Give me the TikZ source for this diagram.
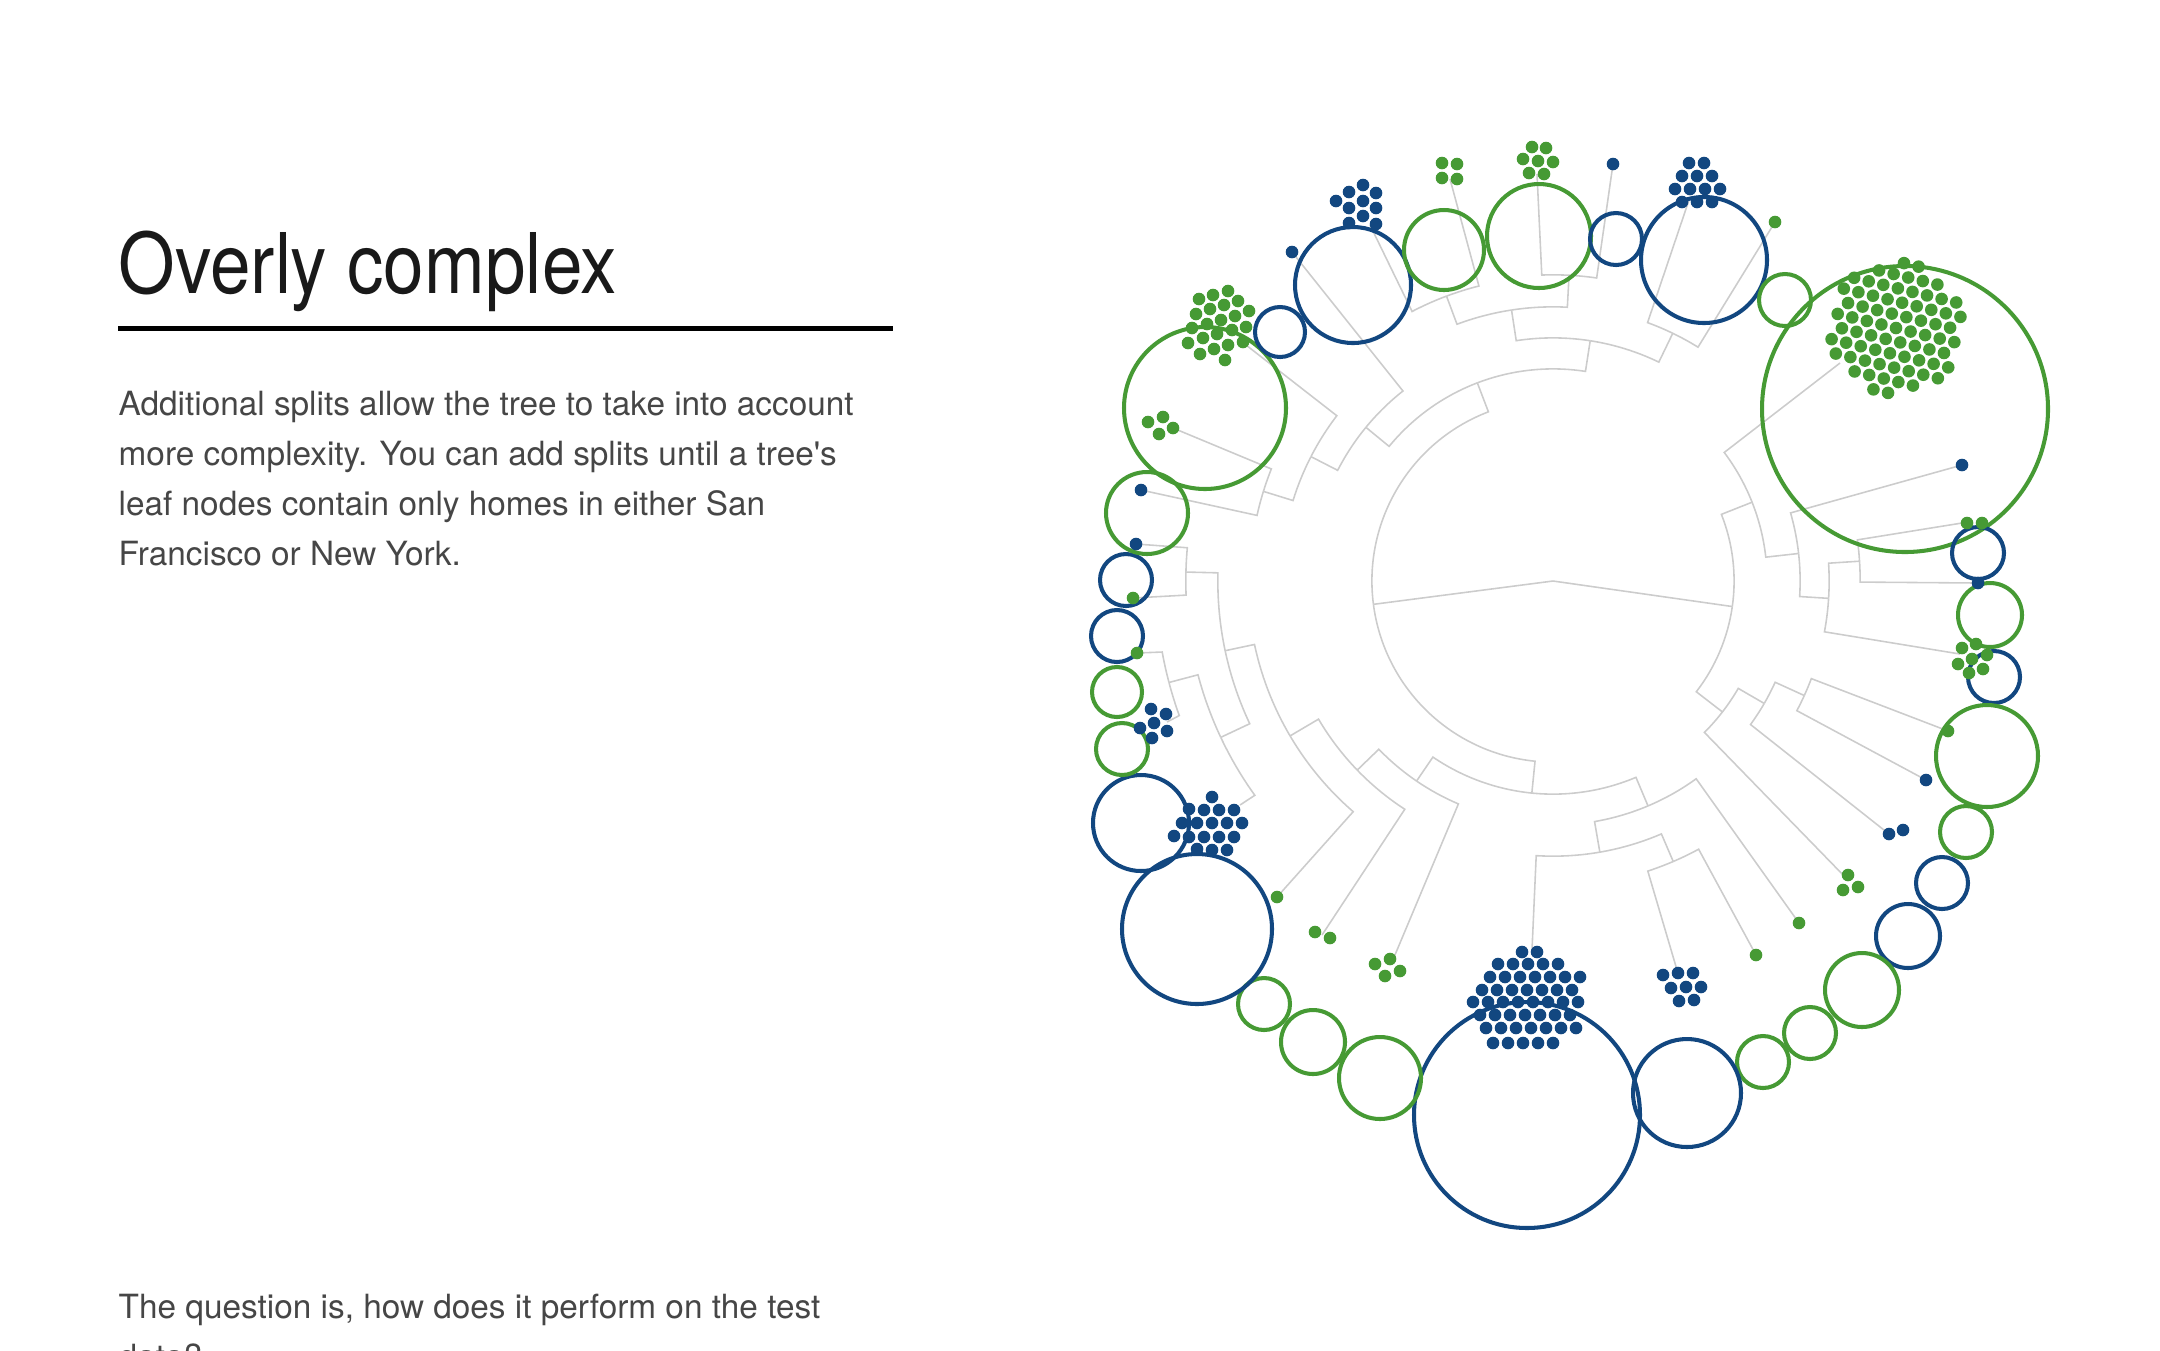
\documentclass[tikz,border=0pt]{standalone}
\usepackage{fontspec}
\setmainfont{TeX Gyre Heros}
\newfontfamily\titlefont[FakeStretch=0.87]{TeX Gyre Heros}
\usepackage{xcolor}
\definecolor{leafgreen}{RGB}{70,154,52}
\definecolor{leafblue}{RGB}{18,71,128}
\definecolor{branchgray}{RGB}{204,204,204}
\definecolor{bodygray}{RGB}{70,70,70}
\tikzset{
  branch/.style    = {draw=branchgray, line width=0.45pt},
  ringg/.style     = {draw=leafgreen, line width=1.15pt},
  ringb/.style     = {draw=leafblue, line width=1.15pt},
  dotg/.style      = {fill=leafgreen},
  dotb/.style      = {fill=leafblue},
  titletext/.style = {anchor=base west, inner sep=0pt, text=black!90, font=\titlefont\fontsize{23.8}{28}\selectfont},
  bodytext/.style  = {anchor=base west, inner sep=0pt, text=bodygray, font=\fontsize{9.48}{14}\selectfont},
}
% hex-packed blob of dots: centre x, centre y, radius (px), tilt, style
\newcommand{\hexblob}[5]{%
  \pgfmathsetmacro\hexlim{(#3/15)^2}%
  \foreach \hi in {-6,...,6}{\foreach \hj in {-6,...,6}{%
    \pgfmathsetmacro\hexu{\hi*cos(#4)+\hj*cos(#4+60)}%
    \pgfmathsetmacro\hexv{\hi*sin(#4)+\hj*sin(#4+60)}%
    \pgfmathsetmacro\hexd{\hexu*\hexu+\hexv*\hexv}%
    \ifdim\hexd pt<\hexlim pt
      \fill[#5] ({#1+15*\hexu},{#2+15*\hexv}) circle[radius=0.063cm];
    \fi
  }}}

\begin{document}
\begin{tikzpicture}[x=0.01cm, y=-0.01cm]
\useasboundingbox (0,0) rectangle (2160,1350);
\clip (0,0) rectangle (2160,1350);

% ===== text column =====
\node[titletext] (title) at (118,293) {Overly complex};
\draw[line width=0.05cm] (118,328) -- (893,328);
\node[bodytext] (body1) at (118,415) {Additional splits allow the tree to take into account};
\node[bodytext] (body2) at (118,465) {more complexity. You can add splits until a tree\textquotesingle s};
\node[bodytext] (body3) at (118,515) {leaf nodes contain only homes in either San};
\node[bodytext] (body4) at (118,565) {Francisco or New York.};
\node[bodytext] (quest1) at (118,1318) {The question is, how does it perform on the test};
\node[bodytext] (quest2) at (118,1368) {data?};

% ===== leaf ends =====
\foreach \nm/\x/\y in {dd/1775/222, cc/1689/200, bb/1613/164, aa/1537/174, z/1450/179,
    y/1370/225, x/1292/252, w/1246/345, v/1173/428, u/1141/490, t/1136/544, s/1133/598,
    r/1137/653, q/1167/722, p/1240/805, o/1277/897, n/1322/935, m/1392/962, l/1532/950,
    k/1677/970, j/1756/955, i/1799/923, ee/1840/363, a/1962/465, d/1960/654, c/1978/583,
    b/1962/523, h/1848/880, g/1889/834, f/1926/780, e/1948/731}
  \coordinate (lf\nm) at (\x,\y);

% ===== tree =====
\begin{scope}[shift={(1553,581)}, x=1cm, y=1cm]
  \coordinate (root) at (0,0);
  \coordinate (nL) at (187.4:1.81);
  \coordinate (nR) at (-8.1:1.81);
  \draw[branch] (nL) -- (root) -- (nR);
  % inner splits
  \foreach \pang/\prad/\cang/\crad in {
      187.4/1.81/110.9/2.12, 187.4/1.81/264.3/2.13,
      110.9/2.12/81.2/2.43, 110.9/2.12/140.6/2.42,
      81.2/2.43/64.2/2.75, 81.2/2.43/98.7/2.74,
      98.7/2.74/87.0/3.06, 98.7/2.74/110.5/3.04,
      140.6/2.42/152.8/2.72, 152.8/2.72/162.8/3.03,
      264.3/2.13/235.7/2.42, 264.3/2.13/292.9/2.44,
      235.7/2.42/224.0/2.72, 224.0/2.72/210.5/3.05,
      210.5/3.05/192.0/3.35,
      192.0/3.35/178.6/3.67, 192.0/3.35/205.2/3.67,
      205.2/3.67/194.8/3.97,
      292.9/2.44/279.8/2.75, 279.8/2.75/293.2/3.05,
      -8.1/1.81/21.6/2.14, -8.1/1.81/-37.7/2.14,
      21.6/2.14/6.4/2.47, 6.4/2.47/-3.6/2.76, -3.6/2.76/3.7/3.07,
      -37.7/2.14/-30.1/2.44, -30.1/2.44/-24.5/2.76}
    \draw[branch] (\pang:\prad) arc[start angle=\pang, end angle=\cang, radius=\prad] -- (\cang:\crad);
  % leaf links
  \foreach \pang/\prad/\lang/\leaf in {
      64.2/2.75/58.2/dd, 64.2/2.75/69.9/cc,
      87.0/3.06/81.8/bb, 87.0/3.06/92.1/aa,
      110.5/3.04/104.1/z, 110.5/3.04/117.6/y,
      140.6/2.42/128.3/x, 152.8/2.72/142.6/w,
      162.8/3.03/158.3/v, 162.8/3.03/167.5/u,
      235.7/2.42/247.0/m, 224.0/2.72/237.0/n, 210.5/3.05/229.1/o,
      178.6/3.67/174.8/t, 178.6/3.67/182.2/s,
      205.2/3.67/215.7/p,
      194.8/3.97/190.3/r, 194.8/3.97/199.8/q,
      292.9/2.44/305.9/i, 279.8/2.75/266.5/l,
      293.2/3.05/288.1/k, 293.2/3.05/298.5/j,
      21.6/2.14/36.9/ee, 6.4/2.47/16.0/a, -3.6/2.76/-10.6/d,
      3.7/3.07/-0.2/c, 3.7/3.07/7.7/b,
      -37.7/2.14/-45.0/h, -30.1/2.44/-36.0/g,
      -24.5/2.76/-28.0/f, -24.5/2.76/-20.7/e}
    \draw[branch] (\pang:\prad) arc[start angle=\pang, end angle=\lang, radius=\prad] -- (lf\leaf);
\end{scope}

% ===== leaf rings =====
\foreach \x/\y/\rad/\sty in {
    1205/408/81/ringg, 1280/332/25/ringb, 1353/285/58/ringb, 1444/250/40/ringg,
    1539/236/52/ringg, 1616/239/26/ringb, 1704/260/63/ringb, 1785/300/26/ringg,
    1905/409/143/ringg, 1978/553/26/ringb, 1990/615/32/ringg, 1994/677/26/ringb,
    1987/756/51/ringg, 1966/832/26/ringg, 1942/883/26/ringb, 1908/936/32/ringb,
    1862/990/37/ringg, 1810/1033/26/ringg, 1763/1062/26/ringg, 1687/1093/54/ringb,
    1527/1115/113/ringb, 1380/1078/41/ringg, 1313/1042/32/ringg, 1264/1004/26/ringg,
    1197/929/75/ringb, 1141/823/48/ringb, 1122/749/26/ringg, 1117/692/25/ringg,
    1117/636/26/ringb, 1126/580/26/ringb, 1147/513/41/ringg}
  \draw[\sty] (\x,\y) circle[radius=\rad*0.01cm];

% ===== homes (dots) =====
% green
\foreach \x/\y in {
    1442/163, 1457/164, 1442/178, 1457/179,
    1532/147, 1546/148, 1523/159, 1538/161, 1553/162, 1529/173, 1544/174,
    1775/222,
    1199/299, 1213/295, 1228/291, 1196/314, 1210/309, 1224/305, 1238/301,
    1192/328, 1207/324, 1221/320, 1235/316, 1249/311, 1188/343, 1203/338,
    1217/334, 1232/330, 1246/327, 1200/354, 1214/349, 1228/345, 1243/342, 1225/360,
    1148/422, 1163/417, 1173/428, 1159/434,
    1133/598, 1137/653, 1277/897, 1315/932, 1330/938,
    1390/959, 1375/964, 1400/971, 1385/976,
    1756/955, 1799/923, 1848/875, 1843/890, 1858/887, 1948/731,
    1962/648, 1976/644, 1987/655, 1972/659, 1958/664, 1983/669, 1969/673,
    1967/523, 1982/523}
  \fill[dotg] (\x,\y) circle[radius=0.063cm];
\hexblob{1896}{328}{68}{13.6}{dotg}
% blue
\foreach \x/\y in {
    1336/201, 1349/192, 1349/208, 1349/223, 1363/185, 1363/201, 1363/216,
    1376/193, 1376/208, 1376/224,
    1689/163, 1704/163, 1682/176, 1697/176, 1712/176, 1675/189, 1690/189,
    1705/189, 1720/189, 1682/202, 1697/202, 1712/202,
    1613/164, 1292/252, 1141/490, 1136/544,
    1151/709, 1166/714, 1154/723, 1140/728, 1167/731, 1152/738,
    1212/797, 1189/809, 1204/810, 1219/810, 1234/810,
    1182/823, 1197/823, 1212/823, 1227/823, 1242/823,
    1174/836, 1189/837, 1204/837, 1219/837, 1234/837,
    1197/849, 1212/850, 1227/850,
    1663/975, 1678/973, 1693/973, 1671/988, 1686/987, 1701/987, 1679/1001, 1694/1000,
    1889/834, 1903/830, 1926/780, 1978/583, 1962/465}
  \fill[dotb] (\x,\y) circle[radius=0.063cm];
\foreach \yy/\xs/\cnt in {952/1522/2, 964/1498/5, 977/1490/7, 990/1482/7,
    1002/1473/8, 1015/1480/7, 1028/1486/7, 1043/1493/5}
  \foreach \kk in {1,...,\cnt}
    \fill[dotb] ({\xs+15*(\kk-1)},\yy) circle[radius=0.063cm];

\end{tikzpicture}
\end{document}
